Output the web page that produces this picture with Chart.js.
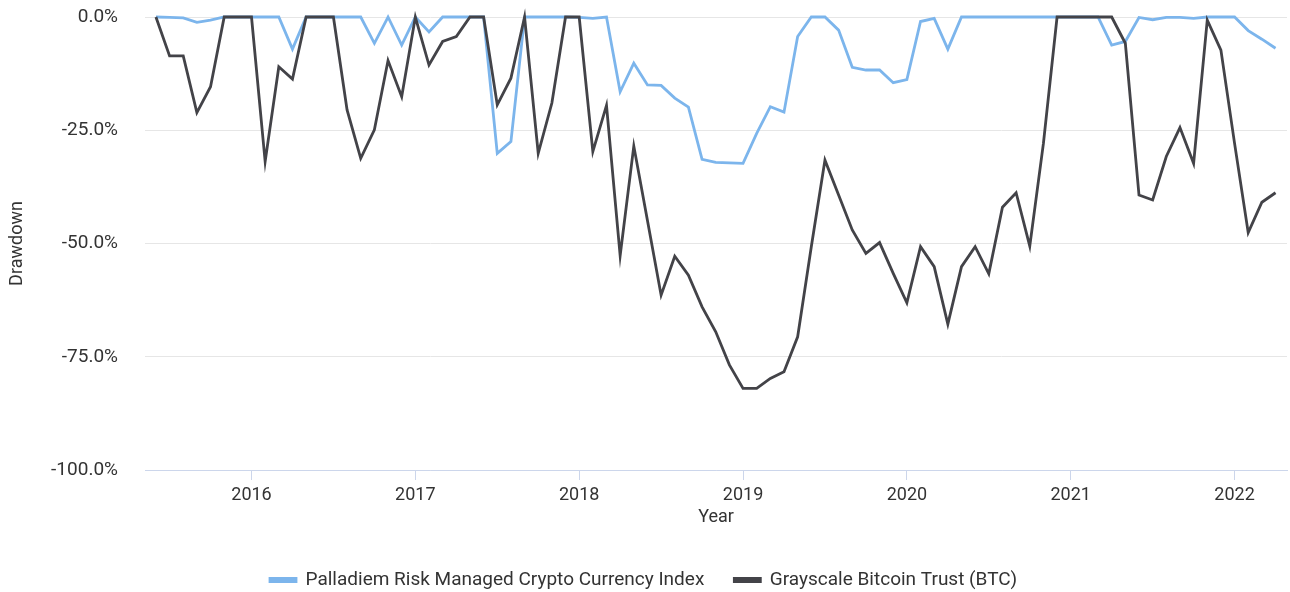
<!DOCTYPE html>
<html>
<head>
<meta charset="utf-8">
<script src="https://cdn.jsdelivr.net/npm/chart.js@4"></script>
<style>
  html, body { margin: 0; padding: 0; background: #fff; }
  #wrap { width: 1290px; height: 592px; position: relative; }
</style>
</head>
<body>
<div id="wrap"><canvas id="ddChart"></canvas></div>
<script>
// monthly observations, Jun 2015 .. Apr 2022
const months = [
  '2015-06', '2015-07', '2015-08', '2015-09', '2015-10', '2015-11', '2015-12',
  '2016-01', '2016-02', '2016-03', '2016-04', '2016-05', '2016-06', '2016-07', '2016-08', '2016-09', '2016-10', '2016-11', '2016-12',
  '2017-01', '2017-02', '2017-03', '2017-04', '2017-05', '2017-06', '2017-07', '2017-08', '2017-09', '2017-10', '2017-11', '2017-12',
  '2018-01', '2018-02', '2018-03', '2018-04', '2018-05', '2018-06', '2018-07', '2018-08', '2018-09', '2018-10', '2018-11', '2018-12',
  '2019-01', '2019-02', '2019-03', '2019-04', '2019-05', '2019-06', '2019-07', '2019-08', '2019-09', '2019-10', '2019-11', '2019-12',
  '2020-01', '2020-02', '2020-03', '2020-04', '2020-05', '2020-06', '2020-07', '2020-08', '2020-09', '2020-10', '2020-11', '2020-12',
  '2021-01', '2021-02', '2021-03', '2021-04', '2021-05', '2021-06', '2021-07', '2021-08', '2021-09', '2021-10', '2021-11', '2021-12',
  '2022-01', '2022-02', '2022-03', '2022-04'
];

// drawdown in %
const palladiem = [
  0, -0.1, -0.2, -1.2, -0.7, 0, 0,
  0, 0, 0, -7.1, 0, 0, 0, 0, 0, -5.8, 0, -6.2,
  0, -3.3, 0, 0, 0, 0, -30.1, -27.5, 0, 0, 0, 0,
  -0.1, -0.3, 0, -16.5, -10.2, -15, -15.1, -17.9, -19.9, -31.4, -32.1, -32.2,
  -32.3, -25.7, -19.8, -21, -4.3, 0, 0, -2.9, -11.1, -11.7, -11.7, -14.5,
  -13.8, -1, -0.3, -7.1, 0, 0, 0, 0, 0, 0, 0, 0,
  0, 0, 0, -6.2, -5.4, -0.1, -0.6, -0.1, -0.1, -0.3, 0, 0,
  0, -3, -4.9, -6.9
];

const grayscale = [
  0, -8.6, -8.6, -21.1, -15.4, 0, 0,
  0, -31.9, -11, -13.7, 0, 0, 0, -20.5, -31.2, -24.9, -9.6, -17.6,
  0, -10.6, -5.4, -4.3, 0, 0, -19.4, -13.5, 0, -30.1, -19, 0,
  0, -29.7, -19.5, -52.7, -28.5, -44.9, -61.4, -52.8, -57, -64, -69.5, -76.8,
  -82, -82, -79.8, -78.3, -70.6, -50.7, -31.6, -39.3, -47, -52.2, -49.8, -56.6,
  -63.1, -50.7, -55.1, -67.8, -55.1, -50.7, -56.7, -42, -38.8, -50.6, -27.9, 0,
  0, 0, 0, 0, -5.8, -39.3, -40.4, -30.8, -24.4, -32.3, -0.7, -7.3,
  -27.9, -47.6, -40.9, -38.8
];

const xTicks = [2016, 2017, 2018, 2019, 2020, 2021, 2022];
const yTicks = [0, -25, -50, -75, -100];

function toYear(m) {
  const [y, mo] = m.split('-').map(Number);
  return y + (mo - 1) / 12;
}
const pts = vals => vals.map((v, i) => ({ x: toYear(months[i]), y: v }));

const FONT = 'Roboto, "Noto Sans", sans-serif';
const TXT = '#333333';

new Chart(document.getElementById('ddChart'), {
  type: 'line',
  data: {
    datasets: [{
      label: 'Palladiem Risk Managed Crypto Currency Index',
      data: pts(palladiem),
      borderColor: '#7cb5ec',
      backgroundColor: '#7cb5ec',
      borderWidth: 2.8,
      pointRadius: 0,
      order: 2,
      clip: false
    }, {
      label: 'Grayscale Bitcoin Trust (BTC)',
      data: pts(grayscale),
      borderColor: '#434348',
      backgroundColor: '#434348',
      borderWidth: 2.8,
      pointRadius: 0,
      order: 1,
      clip: false
    }]
  },
  options: {
    responsive: true,
    maintainAspectRatio: false,
    animation: false,
    layout: { padding: { top: 0, right: 3, left: 0, bottom: 0 } },
    scales: {
      x: {
        type: 'linear',
        min: 2015.35,
        max: 2022.32,
        afterBuildTicks: s => { s.ticks = xTicks.map(v => ({ value: v })); },
        afterFit: s => { s.height = 70.5; },
        ticks: {
          padding: 5,
          color: TXT,
          font: { family: FONT, size: 18 },
          callback: v => String(v)
        },
        grid: { drawOnChartArea: false, drawTicks: true, tickLength: 10, color: '#ccd6eb' },
        border: { color: '#ccd6eb', width: 1 },
        title: {
          display: true, text: 'Year', color: TXT,
          font: { family: FONT, size: 18 },
          padding: { top: 2, bottom: 12.5 }
        }
      },
      y: {
        min: -100,
        max: 0,
        afterBuildTicks: s => { s.ticks = yTicks.map(v => ({ value: v })); },
        afterFit: s => { s.width = 145; s.paddingTop = 17; s.paddingBottom = 0; },
        ticks: {
          padding: 27,
          color: TXT,
          font: { family: FONT, size: 19 },
          callback: v => v.toFixed(1) + '%'
        },
        grid: { color: '#e6e6e6', drawTicks: false },
        border: { display: false },
        title: {
          display: true, text: 'Drawdown', color: TXT,
          font: { family: FONT, size: 18 },
          padding: { top: 7, bottom: 0 }
        }
      }
    },
    plugins: {
      tooltip: { enabled: false },
      legend: {
        position: 'bottom',
        maxHeight: 51.5,
        labels: {
          boxWidth: 26,
          boxHeight: 3,
          padding: 30,
          color: TXT,
          font: { family: FONT, size: 19 },
          sort: (a, b) => a.datasetIndex - b.datasetIndex
        }
      }
    }
  }
});
</script>
</body>
</html>
